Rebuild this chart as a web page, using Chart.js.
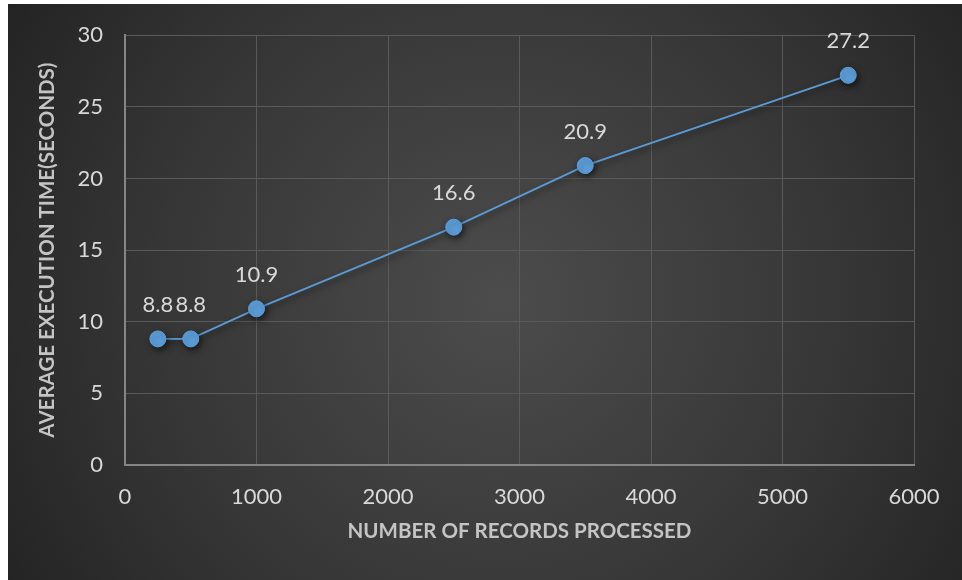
<!DOCTYPE html>
<html>
<head>
<meta charset="utf-8">
<script src="https://cdn.jsdelivr.net/npm/chart.js@4/dist/chart.umd.min.js"></script>
<style>
  html, body { margin: 0; padding: 0; background: #ffffff; }
  #wrap { width: 962px; height: 580px; }
</style>
</head>
<body>
<div id="wrap"><canvas id="c" width="962" height="580"></canvas></div>
<script>
// Records processed vs. average execution time
const recordCounts = [250, 500, 1000, 2500, 3500, 5500];
const execSeconds = [8.8, 8.8, 10.9, 16.6, 20.9, 27.2];
const xTicks = [0, 1000, 2000, 3000, 4000, 5000, 6000];
const yTicks = [0, 5, 10, 15, 20, 25, 30];

const FONT = 'Lato, "Open Sans", sans-serif';
const BLUE = '#5b9bd5';

// dark panel with a soft radial light in the middle
const panelBg = {
  id: 'panelBg',
  beforeDraw(chart) {
    const { ctx, width, height } = chart;
    ctx.save();
    ctx.fillStyle = '#ffffff';
    ctx.fillRect(0, 0, width, height);
    const x0 = 8, y0 = 4;
    const g = ctx.createRadialGradient(500, 300, 0, 500, 300, 620);
    g.addColorStop(0, '#4c4c4c');
    g.addColorStop(0.55, '#363636');
    g.addColorStop(1, '#202020');
    ctx.fillStyle = g;
    ctx.fillRect(x0, y0, width - x0, height - y0);
    ctx.restore();
  }
};

// drop shadow under the series
const seriesShadow = {
  id: 'seriesShadow',
  beforeDatasetsDraw(chart) {
    const ctx = chart.ctx;
    ctx.save();
    ctx.shadowColor = 'rgba(0,0,0,0.55)';
    ctx.shadowBlur = 6;
    ctx.shadowOffsetX = 2;
    ctx.shadowOffsetY = 3;
  },
  afterDatasetsDraw(chart) {
    chart.ctx.restore();
  }
};

// value labels above each point
const valueLabels = {
  id: 'valueLabels',
  afterDatasetsDraw(chart) {
    const ctx = chart.ctx;
    const meta = chart.getDatasetMeta(0);
    ctx.save();
    ctx.fillStyle = '#d9d9d9';
    ctx.font = '22px ' + FONT;
    ctx.textAlign = 'center';
    ctx.textBaseline = 'middle';
    meta.data.forEach((pt, i) => {
      ctx.fillText(String(execSeconds[i]), pt.x, pt.y - 34);
    });
    ctx.restore();
  }
};

new Chart(document.getElementById('c'), {
  type: 'scatter',
  data: {
    datasets: [{
      data: recordCounts.map((x, i) => ({ x: x, y: execSeconds[i] })),
      showLine: true,
      borderColor: BLUE,
      borderWidth: 1.8,
      backgroundColor: BLUE,
      pointBackgroundColor: '#5d9ed9',
      pointBorderColor: '#5d9ed9',
      pointRadius: 8,
      pointBorderWidth: 1,
      tension: 0
    }]
  },
  options: {
    responsive: false,
    animation: false,
    events: [],
    layout: { padding: { left: 8, right: 48, top: 34, bottom: 0 } },
    plugins: {
      legend: { display: false },
      tooltip: { enabled: false }
    },
    scales: {
      x: {
        type: 'linear',
        min: 0,
        max: 6000,
        afterBuildTicks(scale) { scale.ticks = xTicks.map(v => ({ value: v })); },
        afterFit(scale) { scale.height = 115; },
        grid: { color: '#5a5a5a', lineWidth: 1, drawTicks: false },
        border: { color: '#858585', width: 2 },
        ticks: {
          color: '#d9d9d9',
          font: { family: FONT, size: 22 },
          padding: 19,
          maxRotation: 0,
          callback: v => String(v)
        },
        title: {
          display: true,
          text: 'NUMBER OF RECORDS PROCESSED',
          color: '#c4c4c4',
          font: { family: FONT, size: 20.5, weight: 'bold' },
          padding: { top: 0, bottom: 36 }
        }
      },
      y: {
        type: 'linear',
        min: 0,
        max: 30,
        afterBuildTicks(scale) { scale.ticks = yTicks.map(v => ({ value: v })); },
        afterFit(scale) { scale.width = 117; },
        grid: { color: '#5a5a5a', lineWidth: 1, drawTicks: false },
        border: { color: '#858585', width: 2 },
        ticks: {
          color: '#d9d9d9',
          font: { family: FONT, size: 22 },
          padding: 22,
          callback: v => String(v)
        },
        title: {
          display: true,
          text: 'AVERAGE EXECUTION TIME(SECONDS)',
          color: '#c4c4c4',
          font: { family: FONT, size: 20.5, weight: 'bold' },
          padding: { top: 27, bottom: 0 }
        }
      }
    }
  },
  plugins: [panelBg, seriesShadow, valueLabels]
});
</script>
</body>
</html>
